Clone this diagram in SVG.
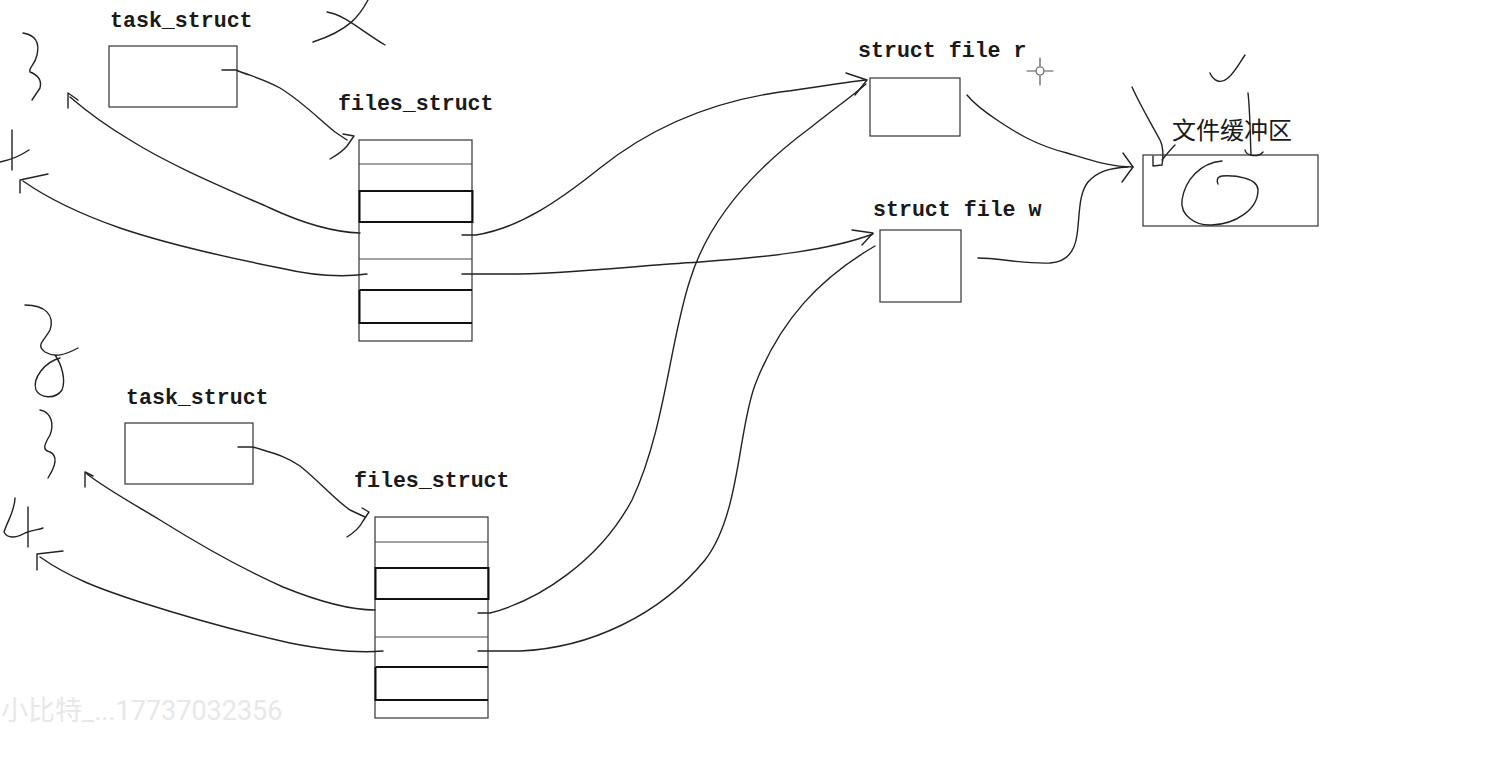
<svg xmlns="http://www.w3.org/2000/svg" width="1499" height="757" viewBox="0 0 1499 757">
<style>
.lbl{font-family:"Liberation Mono","DejaVu Sans Mono",monospace;font-weight:bold;font-size:21.6px;fill:#1a1a1a}
.cjk{font-family:"Noto Sans CJK SC","Noto Sans CJK JP",sans-serif;font-size:24px;fill:#1a1a1a}
.box{fill:none;stroke:#333;stroke-width:1.2}
.row{stroke:#444;stroke-width:1.2}
.thick{fill:none;stroke:#111;stroke-width:2}
.ink{fill:none;stroke:#222;stroke-width:1.4;stroke-linecap:round;stroke-linejoin:round}
.wm{font-family:Roboto,"Noto Sans CJK SC",sans-serif;font-size:27px;fill:#e8e8e8}
</style>
<rect width="1499" height="757" fill="#fff"/>

<g id="task1">
<text class="lbl" x="110" y="27">task_struct</text>
<rect class="box" x="109" y="46" width="128" height="61"/>
</g>
<g id="files1">
<text class="lbl" x="338" y="110">files_struct</text>
<rect class="box" x="359" y="140" width="113" height="201"/>
<line class="row" x1="359" y1="164" x2="472" y2="164"/>
<line class="row" x1="359" y1="259" x2="472" y2="259"/>
<rect class="thick" x="359.5" y="191" width="113" height="31"/>
<path class="thick" d="M359.5,290 L472,290 M359.5,290 L359.5,323 L472,323"/>
</g>
<g id="task2">
<text class="lbl" x="126" y="404">task_struct</text>
<rect class="box" x="125" y="423" width="128" height="61"/>
</g>
<g id="files2">
<text class="lbl" x="354" y="487">files_struct</text>
<rect class="box" x="375" y="517" width="113" height="201"/>
<line class="row" x1="375" y1="542" x2="488" y2="542"/>
<line class="row" x1="375" y1="637" x2="488" y2="637"/>
<rect class="thick" x="375.5" y="568" width="113" height="31"/>
<path class="thick" d="M375.5,667 L488,667 M375.5,667 L375.5,700 L488,700"/>
</g>
<g id="file_r">
<text class="lbl" x="858" y="57">struct file r</text>
<rect class="box" x="870" y="78" width="90" height="58"/>
</g>
<g id="file_w">
<text class="lbl" x="873" y="216">struct file w</text>
<rect class="box" x="880" y="230" width="81" height="72"/>
</g>
<g id="buffer">
<text class="cjk" x="1172" y="139">文件缓冲区</text>
<rect class="box" x="1143" y="155" width="175" height="71"/>
</g>

<g id="connectors" class="ink">
<path d="M222,70 L236,70 C250,76 262,78 280,88 C300,100 318,118 335,132 L347,140"/>
<path d="M343,134 L354,136 L347,146 C342,152 337,155 330,159"/>
<path d="M360,233 C330,232 300,222 270,208 C220,186 170,165 130,140 C100,122 85,110 70,97"/>
<path d="M68,108 L68,93 L78,100"/>
<path d="M367,274 C340,278 310,275 280,268 C230,258 170,245 120,228 C80,214 50,200 23,181"/>
<path d="M20,193 L20,180 L48,174"/>
<path d="M462,235 L476,235 C520,228 560,200 600,168 C650,128 710,102 780,92 C820,87 845,82 866,80"/>
<path d="M846,73 L867,80 L855,95"/>
<path d="M462,274 L500,274 C560,275 630,266 700,262 C770,257 830,250 873,234"/>
<path d="M852,230 L873,233 L862,245"/>
<path d="M478,613 L490,613 C540,600 600,560 632,500 C665,430 670,340 690,280 C710,215 760,165 810,128 C835,108 850,98 866,84"/>
<path d="M478,651 L520,651 C590,648 660,615 705,560 C740,515 738,430 755,385 C780,320 820,278 875,246"/>
<path d="M238,447 L253,447 C268,452 285,455 300,466 C320,482 335,500 350,510 L365,517"/>
<path d="M362,508 L369,512 L363,521 C360,527 355,532 347,537"/>
<path d="M375,610 C350,610 320,602 283,587 C240,568 200,545 160,520 C130,502 105,488 87,474"/>
<path d="M85,487 L85,472 L93,476"/>
<path d="M383,651 C360,653 330,651 290,643 C240,632 190,618 140,602 C100,589 70,578 40,557"/>
<path d="M37,570 L37,554 L63,551"/>
<path d="M967,95 C975,105 985,112 997,120 C1015,132 1035,145 1067,153 C1090,160 1110,167 1133,167"/>
<path d="M978,258 C1000,258 1020,264 1050,263 C1068,262 1075,250 1077,235 C1080,215 1078,195 1088,182 C1097,172 1108,168 1128,167"/>
<path d="M1123,153 L1133,167 L1122,182"/>
</g>

<g id="scribbles" class="ink">
<path d="M23,33 C35,35 40,42 37,55 C35,65 28,68 30,72 C38,75 42,80 40,88 L32,100"/>
<path d="M0,162 C10,160 20,156 29,150 M12,130 L12,170"/>
<path d="M327,12 C345,15 360,30 385,45 M368,0 C360,15 350,30 313,42"/>
<path d="M25,305 C45,305 55,315 50,330 C45,340 35,345 45,352 C55,358 65,355 78,348 M60,358 C45,362 32,378 36,390 C40,398 55,400 62,390 C66,380 62,365 55,355"/>
<path d="M40,410 C52,412 54,425 50,435 C44,445 42,450 50,452 C58,456 56,465 48,478"/>
<path d="M15,498 C15,510 8,520 4,532 C8,540 18,537 25,533 C32,530 38,530 43,528 M28,507 L28,547"/>
<path d="M1210,73 C1213,80 1220,85 1228,78 C1235,72 1240,62 1245,55"/>
<path d="M1132,87 C1140,105 1152,125 1160,140 C1164,148 1163,160 1162,165 L1153,166 L1153,156 M1162,160 C1166,155 1170,150 1175,145"/>
<path d="M1248,93 C1250,110 1250,130 1251,155 M1245,150 C1246,156 1258,158 1263,152"/>
<path d="M1222,161 C1200,163 1185,180 1182,200 C1180,215 1195,226 1212,225 C1235,224 1258,210 1258,190 C1258,178 1235,175 1222,176 C1216,177 1217,182 1218,184"/>
<g stroke="#555" stroke-width="1.2">
<circle cx="1040" cy="71" r="4"/>
<path d="M1027,71 L1035,71 M1045,71 L1053,71 M1040,58 L1040,66 M1040,76 L1040,85"/>
</g>
</g>

<text class="wm" x="1" y="720">小比特_...17737032356</text>
</svg>
